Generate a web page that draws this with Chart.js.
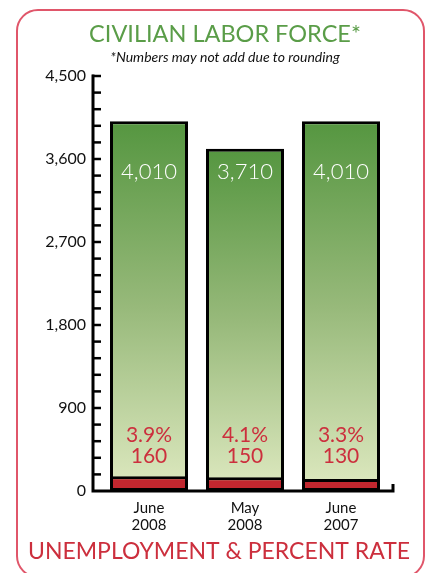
<!DOCTYPE html>
<html>
<head>
<meta charset="utf-8">
<script src="https://cdn.jsdelivr.net/npm/chart.js@4/dist/chart.umd.min.js"></script>
<style>
  html,body{margin:0;padding:0;background:#fff;}
  #wrap{position:relative;width:426px;height:573px;overflow:hidden;}
  #frame{position:absolute;left:16px;top:9px;width:409px;height:569px;border:2.5px solid #e0566a;border-radius:22px;box-sizing:border-box;}
  #c{position:absolute;left:0;top:0;}
</style>
</head>
<body>
<div id="wrap">
  <div id="frame"></div>
  <canvas id="c" width="426" height="573"></canvas>
</div>
<script>
const categories = [["June","2008"],["May","2008"],["June","2007"]];
const laborForce = [4010, 3710, 4010];
const unemployed = [160, 150, 130];
const rateLabels = ["3.9%", "4.1%", "3.3%"];
const forceLabels = ["4,010", "3,710", "4,010"];
const yTickLabels = ["0","900","1,800","2,700","3,600","4,500"];
const bottomTitle = "UNEMPLOYMENT & PERCENT RATE";

const FONT = "Lato, 'Noto Sans', sans-serif";
const RED_TXT = "#cc2f3d";

function greenGrad(ctx){
  const chart = ctx.chart;
  const area = chart.chartArea;
  if (!area) return "#8fb56f";
  const y = chart.scales.y;
  const top = y.getPixelForValue(ctx.raw);
  const bot = y.getPixelForValue(0);
  const g = chart.ctx.createLinearGradient(0, top, 0, bot);
  g.addColorStop(0, "#559640");
  g.addColorStop(0.5, "#97b97a");
  g.addColorStop(1, "#dee9c0");
  return g;
}

const axisPlugin = {
  id: "axisPlugin",
  afterDatasetsDraw(chart){
    const {ctx, chartArea, scales} = chart;
    const y = scales.y;
    const ax = chartArea.left - 8;
    const y0 = y.getPixelForValue(0);
    const yTop = y.getPixelForValue(4500);
    ctx.save();
    ctx.strokeStyle = "#000";
    ctx.lineWidth = 3;
    ctx.lineCap = "butt";
    ctx.beginPath();
    ctx.moveTo(ax, yTop - 1.5);
    ctx.lineTo(ax, y0);
    ctx.lineTo(chartArea.right + 4, y0);
    ctx.lineTo(chartArea.right + 4, y0 - 7);
    ctx.stroke();
    ctx.lineWidth = 2.5;
    for (let v = 180; v <= 4500; v += 180){
      const py = y.getPixelForValue(v);
      ctx.beginPath();
      ctx.moveTo(ax - 1, py);
      ctx.lineTo(ax + 8, py);
      ctx.stroke();
    }
    // value labels
    const metaF = chart.getDatasetMeta(0);
    ctx.textAlign = "center";
    ctx.textBaseline = "middle";
    metaF.data.forEach((bar, i) => {
      ctx.fillStyle = "#ffffff";
      ctx.font = "300 22px " + FONT;
      ctx.fillText(forceLabels[i], bar.x, y.getPixelForValue(3460));
      ctx.fillStyle = RED_TXT;
      ctx.font = "21px " + FONT;
      ctx.fillText(rateLabels[i], bar.x, y.getPixelForValue(610));
      ctx.fillText(String(unemployed[i]), bar.x, y.getPixelForValue(380));
    });
    // bottom caption (x-axis title)
    ctx.fillStyle = RED_TXT;
    ctx.font = "23px " + FONT;
    ctx.textBaseline = "alphabetic";
    ctx.fillText(bottomTitle, 219, 559);
    ctx.restore();
  }
};

new Chart(document.getElementById("c"), {
  type: "bar",
  data: {
    labels: categories,
    datasets: [
      {
        label: "Civilian labor force",
        data: laborForce,
        backgroundColor: greenGrad,
        borderColor: "#000",
        borderWidth: 3,
        borderSkipped: false,
        order: 2
      },
      {
        label: "Unemployed",
        data: unemployed,
        backgroundColor: "#c1272f",
        borderColor: "#000",
        borderWidth: 3,
        borderSkipped: false,
        order: 1
      }
    ]
  },
  options: {
    responsive: false,
    animation: false,
    devicePixelRatio: 1,
    layout: { padding: { left: 31, right: 7, top: 0, bottom: 0 } },
    datasets: { bar: { barPercentage: 0.8125, categoryPercentage: 1.0 } },
    plugins: {
      legend: { display: false },
      tooltip: { enabled: false },
      title: {
        display: true,
        text: "CIVILIAN LABOR FORCE*",
        color: "#5a9d48",
        font: { family: FONT, size: 23.5, weight: "normal" },
        padding: { top: 20, bottom: 0 }
      },
      subtitle: {
        display: true,
        text: "*Numbers may not add due to rounding",
        color: "#111",
        font: { family: FONT, size: 14, style: "italic", weight: "normal" },
        padding: { top: 1, bottom: 10 }
      }
    },
    scales: {
      x: {
        stacked: true,
        grid: { display: false, drawTicks: false },
        border: { display: false },
        ticks: { color: "#111", font: { family: FONT, size: 15, lineHeight: 1.1 }, padding: 9 },
        afterFit(s){ s.height = 82; }
      },
      y: {
        stacked: false,
        min: 0,
        max: 4500,
        grid: { display: false, drawTicks: false },
        border: { display: false },
        ticks: {
          stepSize: 900,
          color: "#111",
          font: { family: FONT, size: 16 },
          padding: 15,
          callback: (v) => yTickLabels[Math.round(v / 900)]
        },
        afterFit(s){ s.width = 70; }
      },
      yRight: {
        position: "right",
        display: true,
        min: 0,
        max: 4500,
        grid: { display: false, drawTicks: false },
        border: { display: false },
        ticks: { display: false },
        afterFit(s){ s.width = 30; }
      }
    }
  },
  plugins: [axisPlugin]
});
</script>
</body>
</html>
